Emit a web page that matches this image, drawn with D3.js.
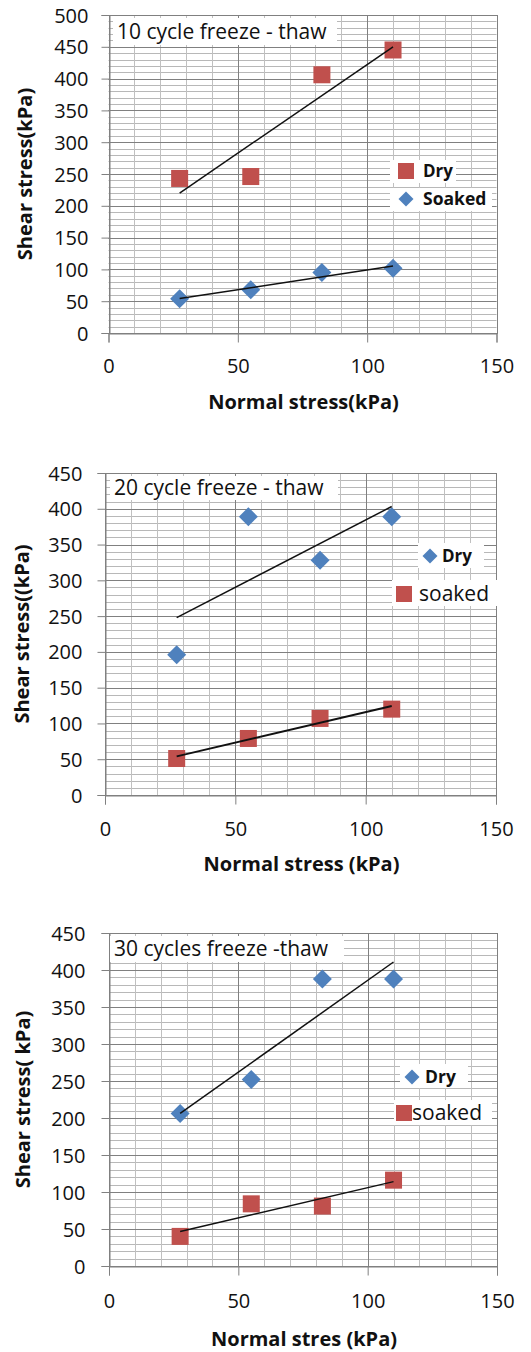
<!DOCTYPE html>
<html>
<head>
<meta charset="utf-8">
<script src="https://cdn.jsdelivr.net/npm/d3@7"></script>
<style>
  body { margin: 0; background: #fff; }
  svg { display: block; }
  text { font-family: "Open Sans", "Noto Sans", sans-serif; fill: #111; }
</style>
</head>
<body>
<svg id="chart" width="531" height="1352"></svg>
<script>
// ---- data ----
const normalStress = [27.5, 55, 82.5, 110];
const xTicks = [0, 50, 100, 150];

const titles = ["10 cycle freeze - thaw", "20 cycle freeze - thaw", "30 cycles freeze -thaw"];
const yLabels = ["Shear stress(kPa)", "Shear stress((kPa)", "Shear stress( kPa)"];
const xLabels = ["Normal stress(kPa)", "Normal stress (kPa)", "Normal stres (kPa)"];
const yMaxes = [500, 450, 450];

const p1Dry = [243, 246, 406, 445];
const p1Soaked = [54, 68, 95, 102];
const p2Dry = [196, 389, 328, 389];
const p2Soaked = [51, 79, 107, 120];
const p3Dry = [206, 252, 388, 388];
const p3Soaked = [40, 84, 81, 116];

const legend1 = ["Dry", "Soaked"];
const legend2 = ["Dry", "soaked"];
const legend3 = ["Dry", "soaked"];

const RED = "#C0504D", BLUE = "#4F81BD";

// ---- layout (pixel geometry per panel) ----
const panels = [
  { x0: 108.5, x1: 496.5, yBot: 333, yTop: 15, xTickY: 365, xLabY: 402, yTickR: 88, yLabX: 25,
    titleBox: [113, 18, 224, 27],
    series: [
      { name: legend1[0], vals: p1Dry, shape: "square", color: RED, lw: 1.5 },
      { name: legend1[1], vals: p1Soaked, shape: "diamond", color: BLUE, lw: 1.5 }
    ],
    legend: [
      { box: [390, 160, 66, 23], mx: 406, my: 171, tx: 423, size: 17, bold: true },
      { box: [390, 188, 102, 23], mx: 406, my: 199, tx: 423, size: 17.5, bold: true }
    ] },
  { x0: 105, x1: 496, yBot: 795, yTop: 473, xTickY: 828, xLabY: 864, yTickR: 82, yLabX: 22,
    titleBox: [110, 476, 228, 24],
    series: [
      { name: legend2[0], vals: p2Dry, shape: "diamond", color: BLUE, lw: 1.5 },
      { name: legend2[1], vals: p2Soaked, shape: "square", color: RED, lw: 2 }
    ],
    legend: [
      { box: [418, 543, 66, 25], mx: 430, my: 556, tx: 442, size: 17, bold: true },
      { box: [392, 580, 108, 26], mx: 404, my: 594, tx: 419, size: 21, bold: false }
    ] },
  { x0: 109, x1: 497, yBot: 1266, yTop: 933, xTickY: 1300, xLabY: 1339, yTickR: 85, yLabX: 23,
    titleBox: [110, 936, 234, 26],
    series: [
      { name: legend3[0], vals: p3Dry, shape: "diamond", color: BLUE, lw: 1.5 },
      { name: legend3[1], vals: p3Soaked, shape: "square", color: RED, lw: 1.5 }
    ],
    legend: [
      { box: [400, 1064, 68, 24], mx: 412, my: 1077, tx: 425, size: 17.5, bold: true },
      { box: [394, 1100, 98, 25], mx: 404, my: 1113, tx: 412, size: 21, bold: false }
    ] }
];

const svg = d3.select("#chart");

function marker(g, shape, cx, cy, color, s) {
  if (shape === "square") {
    g.append("rect").attr("x", cx - s / 2).attr("y", cy - s / 2)
      .attr("width", s).attr("height", s).attr("fill", color);
  } else {
    const h = s / 2 + 1;
    g.append("path")
      .attr("d", `M${cx},${cy - h}L${cx + h},${cy}L${cx},${cy + h}L${cx - h},${cy}Z`)
      .attr("fill", color);
  }
}

function regression(xs, ys) {
  const n = xs.length;
  const mx = d3.mean(xs), my = d3.mean(ys);
  let sxy = 0, sxx = 0;
  for (let i = 0; i < n; i++) { sxy += (xs[i] - mx) * (ys[i] - my); sxx += (xs[i] - mx) ** 2; }
  const b = sxy / sxx;
  return { b, a: my - b * mx };
}

panels.forEach((p, i) => {
  const g = svg.append("g");
  const x = d3.scaleLinear().domain([0, 150]).range([p.x0, p.x1]);
  const y = d3.scaleLinear().domain([0, yMaxes[i]]).range([p.yBot, p.yTop]);

  // minor grid
  const minorY = d3.range(0, yMaxes[i] + 1, 10);
  const minorX = d3.range(0, 151, 10);
  g.selectAll(".mgy").data(minorY).join("line")
    .attr("x1", p.x0).attr("x2", p.x1)
    .attr("y1", d => Math.round(y(d)) + 0.5).attr("y2", d => Math.round(y(d)) + 0.5)
    .attr("stroke", "#b8b8b8").attr("stroke-width", 1);
  g.selectAll(".mgx").data(minorX).join("line")
    .attr("y1", p.yTop).attr("y2", p.yBot)
    .attr("x1", d => Math.round(x(d)) + 0.5).attr("x2", d => Math.round(x(d)) + 0.5)
    .attr("stroke", "#c0c0c0").attr("stroke-width", 1);
  // major grid
  const majorY = d3.range(0, yMaxes[i] + 1, 50);
  g.selectAll(".Mgy").data(majorY).join("line")
    .attr("x1", p.x0).attr("x2", p.x1)
    .attr("y1", d => Math.round(y(d)) + 0.5).attr("y2", d => Math.round(y(d)) + 0.5)
    .attr("stroke", "#808080").attr("stroke-width", 1);
  g.selectAll(".Mgx").data(xTicks).join("line")
    .attr("y1", p.yTop).attr("y2", p.yBot)
    .attr("x1", d => Math.round(x(d)) + 0.5).attr("x2", d => Math.round(x(d)) + 0.5)
    .attr("stroke", "#808080").attr("stroke-width", 1);

  // axes
  const yAxis = d3.axisLeft(y).tickValues(majorY).tickSize(8);
  const ya = g.append("g").attr("transform", `translate(${Math.round(p.x0) + 0.5},0)`).call(yAxis);
  ya.select(".domain").attr("stroke", "#808080");
  ya.selectAll(".tick line").attr("stroke", "#808080");
  ya.selectAll(".tick text").attr("x", p.yTickR - Math.round(p.x0)).attr("dy", "0.35em")
    .style("font-size", "20px").attr("fill", "#111").style("font-family", "'Open Sans', sans-serif");

  const xAxis = d3.axisBottom(x).tickValues(xTicks).tickSize(9);
  const xa = g.append("g").attr("transform", `translate(0,${Math.round(p.yBot) + 0.5})`).call(xAxis);
  xa.select(".domain").attr("stroke", "#808080");
  xa.selectAll(".tick line").attr("stroke", "#808080");
  xa.selectAll(".tick text").attr("y", p.xTickY - p.yBot).attr("dy", "0.35em")
    .style("font-size", "20px").attr("fill", "#111").style("font-family", "'Open Sans', sans-serif");

  // right/top border
  g.append("rect").attr("x", Math.round(p.x0) + 0.5).attr("y", Math.round(p.yTop) + 0.5)
    .attr("width", Math.round(p.x1) - Math.round(p.x0)).attr("height", Math.round(p.yBot) - Math.round(p.yTop))
    .attr("fill", "none").attr("stroke", "#808080");

  // axis titles
  g.append("text").attr("x", (p.x0 + p.x1) / 2 + 1).attr("y", p.xLabY).attr("dy", "0.35em")
    .attr("text-anchor", "middle").style("font-size", "20px").style("font-weight", "bold")
    .text(xLabels[i]);
  g.append("text").attr("transform", `translate(${p.yLabX},${(p.yTop + p.yBot) / 2}) rotate(-90)`)
    .attr("dy", "0.35em").attr("text-anchor", "middle").style("font-size", "20px").style("font-weight", "bold")
    .text(yLabels[i]);

  // title box
  const tb = p.titleBox;
  g.append("rect").attr("x", tb[0]).attr("y", tb[1]).attr("width", tb[2]).attr("height", tb[3]).attr("fill", "#fff");
  g.append("text").attr("x", tb[0] + 4).attr("y", tb[1] + tb[3] / 2).attr("dy", "0.35em")
    .style("font-size", "21px").text(titles[i]);

  // markers
  p.series.forEach(s => {
    const mg = g.append("g");
    s.vals.forEach((v, k) => marker(mg, s.shape, x(normalStress[k]), y(v), s.color, 17));
  });
  // linear trend lines (computed from the series, drawn on top)
  p.series.forEach(s => {
    const r = regression(normalStress, s.vals);
    const xa0 = normalStress[0], xa1 = normalStress[normalStress.length - 1];
    g.append("line")
      .attr("x1", x(xa0)).attr("y1", y(r.a + r.b * xa0))
      .attr("x2", x(xa1)).attr("y2", y(r.a + r.b * xa1))
      .attr("stroke", "#111").attr("stroke-width", s.lw);
  });

  // legend
  p.series.forEach((s, k) => {
    const L = p.legend[k];
    g.append("rect").attr("x", L.box[0]).attr("y", L.box[1]).attr("width", L.box[2]).attr("height", L.box[3]).attr("fill", "#fff");
    marker(g, s.shape, L.mx, L.my, s.color, s.shape === "square" ? 16 : 13);
    g.append("text").attr("x", L.tx).attr("y", L.my).attr("dy", "0.35em")
      .style("font-size", L.size + "px").style("font-weight", L.bold ? "bold" : "normal")
      .text(s.name);
  });
});
</script>
</body>
</html>
